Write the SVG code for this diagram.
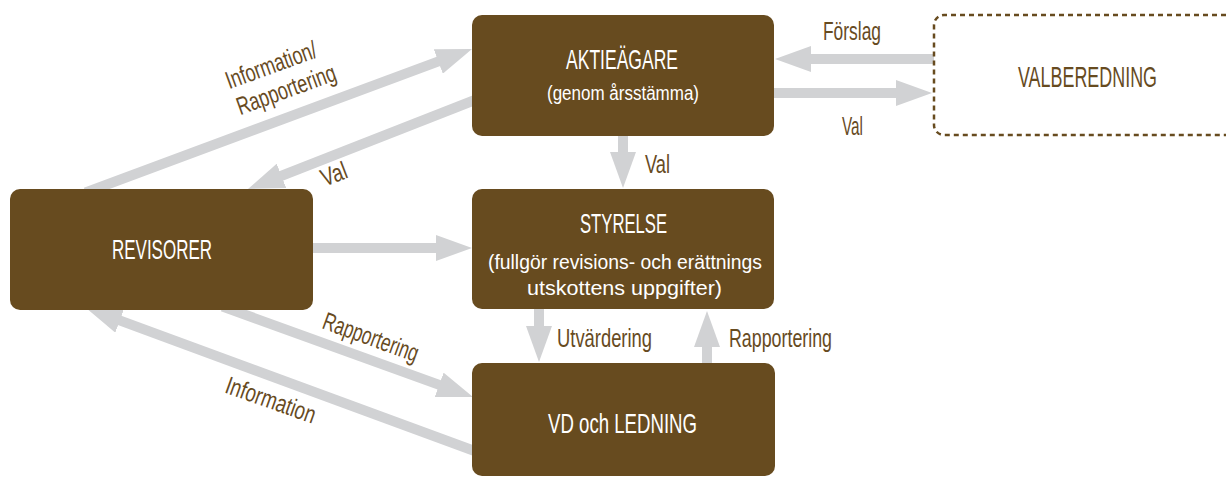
<svg xmlns="http://www.w3.org/2000/svg" width="1226" height="477" viewBox="0 0 1226 477">
  <style>
    .box { fill: #674b1f; }
    .dash { fill: #ffffff; stroke: #674b1f; stroke-width: 2.5; stroke-dasharray: 5 4; }
    .conn { stroke: #d1d2d4; stroke-width: 10; fill: none; marker-end: url(#head); }
    text { font-family: "Liberation Sans Narrow", "Liberation Sans", Arial, sans-serif; text-anchor: middle; }
    .t1 { fill: #ffffff; font-size: 28px; }
    .t2 { fill: #ffffff; font-size: 20px; }
    .lb { fill: #674b1f; font-size: 25px; }
    .vb { fill: #674b1f; font-size: 29px; }
  </style>
  <defs>
    <marker id="head" markerUnits="userSpaceOnUse" markerWidth="36" markerHeight="26" viewBox="0 0 36 26" refX="6" refY="13" orient="auto">
      <path d="M0,0 L36,13 L0,26 Z" fill="#d1d2d4"/>
    </marker>
  </defs>
  <rect width="1226" height="477" fill="#ffffff"/>

  <g id="connectors">
    <line class="conn" x1="934" y1="59" x2="805" y2="59"/>
    <line class="conn" x1="770" y1="93" x2="902" y2="93"/>
    <line class="conn" x1="623" y1="130" x2="623" y2="158"/>
    <line class="conn" x1="305" y1="248" x2="442" y2="248"/>
    <line class="conn" x1="539" y1="305" x2="539" y2="332"/>
    <line class="conn" x1="707" y1="368" x2="707" y2="341"/>
    <line class="conn" x1="85.6" y1="192.5" x2="443.9" y2="59.4"/>
    <line class="conn" x1="480" y1="98" x2="275.9" y2="178"/>
    <line class="conn" x1="222.6" y1="306.6" x2="444.8" y2="386.9"/>
    <line class="conn" x1="480" y1="453" x2="114.2" y2="318.4"/>
  </g>

  <g id="labels">
    <text class="lb" x="852" y="40" textLength="58" lengthAdjust="spacingAndGlyphs">Förslag</text>
    <text class="lb" x="852.5" y="135" textLength="21" lengthAdjust="spacingAndGlyphs">Val</text>
    <text class="lb" x="657.5" y="173" textLength="25" lengthAdjust="spacingAndGlyphs">Val</text>
    <text class="lb" x="604.5" y="347" textLength="95" lengthAdjust="spacingAndGlyphs">Utvärdering</text>
    <text class="lb" x="780.5" y="347" textLength="103" lengthAdjust="spacingAndGlyphs">Rapportering</text>
    <text class="lb" transform="translate(274,73) rotate(-20)" textLength="95" lengthAdjust="spacingAndGlyphs">Information/</text>
    <text class="lb" transform="translate(289,97.5) rotate(-20)" textLength="104" lengthAdjust="spacingAndGlyphs">Rapportering</text>
    <text class="lb" transform="translate(337,182) rotate(-21)" textLength="26" lengthAdjust="spacingAndGlyphs">Val</text>
    <text class="lb" transform="translate(368,345) rotate(20)" textLength="100" lengthAdjust="spacingAndGlyphs">Rapportering</text>
    <text class="lb" transform="translate(268,408) rotate(19.5)" textLength="94" lengthAdjust="spacingAndGlyphs">Information</text>
  </g>

  <g id="aktieagare">
    <rect class="box" x="472" y="15" width="302" height="121" rx="10"/>
    <text class="t1" x="622" y="69" textLength="112" lengthAdjust="spacingAndGlyphs">AKTIEÄGARE</text>
    <text class="t2" x="623" y="100" textLength="152" lengthAdjust="spacingAndGlyphs">(genom årsstämma)</text>
  </g>

  <g id="valberedning">
    <path class="dash" d="M1226,15 H944 A10,10 0 0 0 934,25 V125 A10,10 0 0 0 944,135 H1226"/>
    <text class="vb" x="1087.5" y="87" textLength="139" lengthAdjust="spacingAndGlyphs">VALBEREDNING</text>
  </g>

  <g id="revisorer">
    <rect class="box" x="10" y="189" width="303" height="121" rx="10"/>
    <text class="t1" x="162" y="259" textLength="100" lengthAdjust="spacingAndGlyphs">REVISORER</text>
  </g>

  <g id="styrelse">
    <rect class="box" x="472" y="189" width="302" height="120" rx="10"/>
    <text class="t1" x="623.5" y="233" textLength="87" lengthAdjust="spacingAndGlyphs">STYRELSE</text>
    <text class="t2" x="625" y="269" textLength="274" lengthAdjust="spacingAndGlyphs">(fullgör revisions- och erättnings</text>
    <text class="t2" x="624.5" y="295" textLength="195" lengthAdjust="spacingAndGlyphs">utskottens uppgifter)</text>
  </g>

  <g id="vd">
    <rect class="box" x="472" y="363" width="303" height="113" rx="10"/>
    <text class="t1" x="622.5" y="433" textLength="149" lengthAdjust="spacingAndGlyphs">VD och LEDNING</text>
  </g>
</svg>
